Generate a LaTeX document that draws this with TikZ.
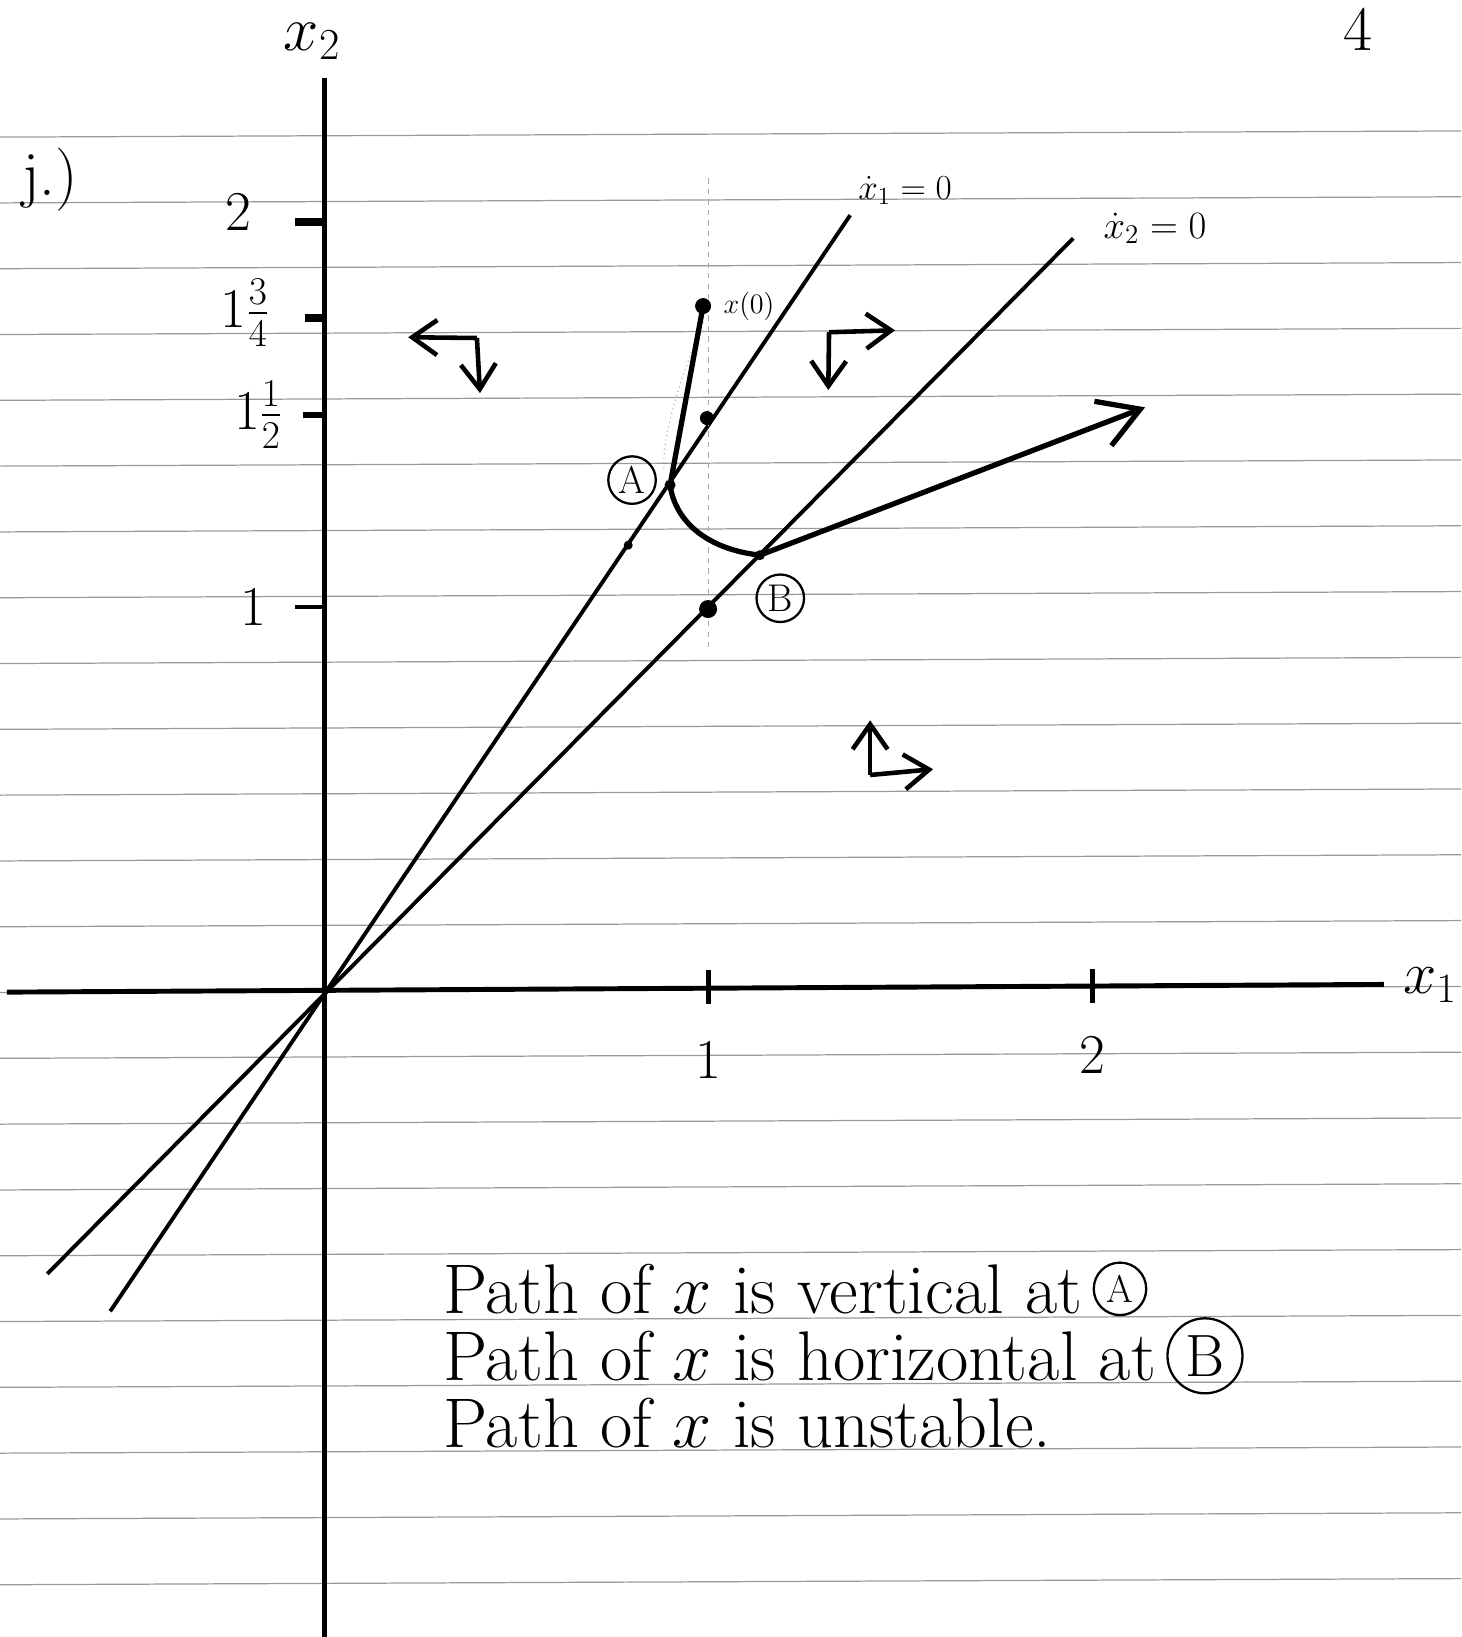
\RequirePackage{fix-cm}
\documentclass[tikz,border=0pt]{standalone}
\usepackage{amsmath}
\usepackage{fontspec}
\usetikzlibrary{positioning,arrows.meta}

\begin{document}
\begin{tikzpicture}[x=7.68cm,y=7.7cm,
  rule/.style={black!40,line width=0.7pt},
  axis/.style={line width=2.8pt},
  nullc/.style={line width=2.2pt},
  traj/.style={line width=3pt,line join=round},
  vec/.style={line width=2.6pt,-{Straight Barb[length=0.5cm,width=0.7cm]}},
  pencil/.style={black!35,line width=0.6pt,dashed},
  dot/.style={circle,fill,inner sep=0pt,minimum size=#1},
  dot/.default=0.3cm,
  lab/.style={font=\fontsize{32}{38}\selectfont},
  hand/.style={font=\fontsize{40}{48}\selectfont,inner sep=0pt,anchor=base west},
  ring/.style={draw,circle,line width=1.3pt,inner sep=1pt,minimum size=0.95cm,font=\fontsize{22}{26}\selectfont},
  node distance=0.2cm]
\useasboundingbox (-0.844,-1.675) rectangle (2.961,2.577);

% ruled paper
\foreach \k in {0,...,22}
  \draw[rule] (-0.844,{2.2208-0.17091*\k}) -- (2.961,{2.2368-0.17091*\k});

% axes
\draw[axis] (0,-1.675) -- (0,2.374);
\draw[axis] (-0.826,0) -- (2.76,0.02);
\node[font=\fontsize{36}{43}\selectfont] (x2lab) at (-0.031,2.47) {$x_2$};
\node[font=\fontsize{34}{40}\selectfont] (x1lab) at (2.880,0.018) {$x_1$};
\node[font=\fontsize{36}{43}\selectfont] (part) at (-0.714,2.109) {j.)};
\node[font=\fontsize{36}{43}\selectfont,anchor=base] (page) at (2.693,2.445) {4};

% ticks on x2
\draw[line width=0.16cm] (-0.075,2) -- (0,2);
\draw[line width=0.16cm] (-0.05,1.75) -- (0,1.75);
\draw[line width=0.12cm] (-0.055,1.5) -- (0,1.5);
\draw[line width=0.09cm] (-0.075,1) -- (0,1);
\node[lab] (t2) at (-0.224,2.026) {2};
\node[lab] (t134) at (-0.206,1.764) {$1\tfrac{3}{4}$};
\node[lab] (t112) at (-0.172,1.499) {$1\tfrac{1}{2}$};
\node[lab] (t1) at (-0.185,1.0) {1};

% ticks on x1
\draw[line width=2.8pt] (1,0.057) -- (1,-0.031);
\draw[line width=2.8pt] (2,0.06) -- (2,-0.028);
\node[lab] (s1) at (1.0,-0.177) {1};
\node[lab] (s2) at (2.0,-0.164) {2};

% nullclines
\coordinate (l1s) at (-0.557,-0.829);
\coordinate (l1e) at (1.370,2.018);
\coordinate (l2s) at (-0.721,-0.732);
\coordinate (l2e) at (1.951,1.958);
\draw[nullc] (l1s) -- (l1e);
\draw[nullc] (l2s) -- (l2e);
\node[font=\fontsize{20}{24}\selectfont] (n1) at (1.513,2.083) {$\dot{x}_1=0$};
\node[font=\fontsize{22}{26}\selectfont] (n2) at (2.164,1.984) {$\dot{x}_2=0$};

% pencil guides
\draw[pencil] (1,2.114) -- (1,0.888);
\draw[pencil,dotted] (0.987,1.74) .. controls (0.93,1.60) and (0.88,1.45) .. (0.885,1.36);

% points
\coordinate (A) at (0.901,1.317);
\coordinate (B) at (1.135,1.135);
\coordinate (tip) at (2.138,1.519);
\node[dot=0.32cm] (x0) at (0.987,1.782) {};
\node[dot=0.28cm] (p15) at (0.997,1.491) {};
\node[dot=0.36cm] (p11) at (1.0,0.995) {};
\node[dot=0.18cm] (mk) at (0.792,1.161) {};
\node[dot=0.22cm] (dA) at (A) {};
\node[dot=0.2cm] (dB) at (B) {};
\node[font=\fontsize{16}{19}\selectfont,right=0.12cm of x0] (x0lab) {$x(0)$};
\node[ring] (rA) at (0.802,1.330) {A};
\node[ring] (rB) at (1.188,1.023) {B};

% path of x
\draw[traj,-{Straight Barb[length=0.8cm,width=0.95cm]}] (x0.center) -- (A)
  .. controls (0.915,1.22) and (1.0,1.15) .. (B) -- (tip);

% direction arrows
\coordinate (c1) at (0.398,1.699);
\coordinate (c1l) at (0.219,1.701);
\coordinate (c1d) at (0.406,1.556);
\draw[vec] (c1) -- (c1l);
\draw[vec] (c1) -- (c1d);
\coordinate (c2) at (1.315,1.714);
\coordinate (c2r) at (1.487,1.719);
\coordinate (c2d) at (1.313,1.564);
\draw[vec] (c2) -- (c2r);
\draw[vec] (c2) -- (c2d);
\coordinate (c3) at (1.422,0.564);
\coordinate (c3u) at (1.422,0.706);
\coordinate (c3r) at (1.586,0.579);
\draw[vec] (c3) -- (c3u);
\draw[vec] (c3) -- (c3r);

% remarks
\node[hand] (l1) at (0.310,-0.834) {Path of $x$ is vertical at};
\node[hand] (l2) at (0.310,-1.008) {Path of $x$ is horizontal at};
\node[hand] (l3) at (0.310,-1.182) {Path of $x$ is unstable.};
\node[ring,minimum size=1.05cm,right=0.2cm of l1] (qA) {A};
\node[ring,minimum size=1.5cm,font=\fontsize{34}{40}\selectfont,right=0.2cm of l2] (qB) {B};
\end{tikzpicture}
\end{document}
